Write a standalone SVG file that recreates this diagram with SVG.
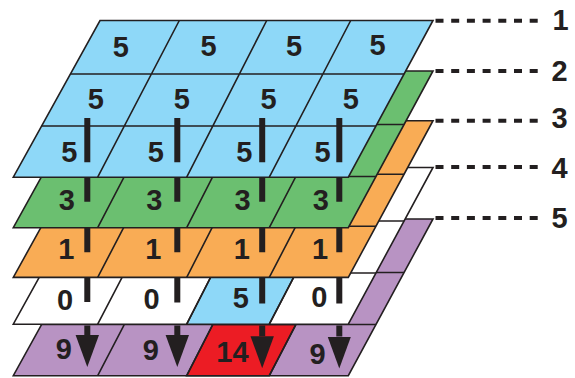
<svg xmlns="http://www.w3.org/2000/svg" width="575" height="378" viewBox="0 0 575 378">
<style>
.plate{stroke:#231f20;stroke-width:1.6;stroke-linejoin:miter}
.grid{fill:none;stroke:#231f20;stroke-width:1.6}
.blue{fill:#8ed8f8}.green{fill:#6bbf70}.orange{fill:#f9ac55}.white{fill:#ffffff}.purple{fill:#b893c3}.red{fill:#ec1c24}
text{font-family:"Liberation Sans",Arial,sans-serif;font-weight:bold;font-size:29px;fill:#231f20;text-anchor:middle}
.bar{stroke:#231f20;stroke-width:6;fill:none}
.lead{stroke:#231f20;stroke-width:4;stroke-dasharray:8 7.7;fill:none}
</style>
<defs>
<path id="outline" d="M100,0 L433,0 L348.3,156.7 L13.3,156.7 Z"/>
<path id="lines" d="M179.3,0 L97.7,156.7 M266.7,0 L186.7,156.7 M350.7,0 L269.3,156.7 M70.4,53.5 L404.1,53.5 M41.6,105.5 L376,105.5"/>
<path id="cell3" d="M212.8,105.5 L295.9,105.5 L269.3,156.7 L186.7,156.7 Z"/>
<marker id="head" markerUnits="userSpaceOnUse" viewBox="0 0 32 24" markerWidth="32" markerHeight="24" refX="0" refY="12" orient="auto">
<path d="M0,0.3 L32,12 L0,23.7 Z" fill="#231f20"/>
</marker>
</defs>

<g id="layer5" transform="translate(0,219)">
<use href="#outline" class="plate purple"/>
<use href="#cell3" class="plate red"/>
<use href="#lines" class="grid"/>
<text x="63.8" y="140">9</text>
<text x="150.8" y="141">9</text>
<text x="232.5" y="143.3">14</text>
<text x="317.5" y="145.3">9</text>
</g>

<g id="layer4" transform="translate(0,167.5)">
<use href="#outline" class="plate white"/>
<use href="#cell3" class="plate blue"/>
<use href="#lines" class="grid"/>
<text x="65" y="142.5">0</text>
<text x="151.5" y="141.8">0</text>
<text x="240.8" y="140">5</text>
<text x="319.2" y="139.3">0</text>
</g>

<g id="layer3" transform="translate(0,120.7)">
<use href="#outline" class="plate orange"/>
<use href="#lines" class="grid"/>
<text x="66.3" y="138.3">1</text>
<text x="153.4" y="138.3">1</text>
<text x="241.7" y="138.3">1</text>
<text x="320" y="138.3">1</text>
</g>

<g id="layer2" transform="translate(0,71)">
<use href="#outline" class="plate green"/>
<use href="#lines" class="grid"/>
<text x="66.7" y="139">3</text>
<text x="154.2" y="139">3</text>
<text x="242.5" y="139">3</text>
<text x="320.8" y="139">3</text>
</g>

<g id="layer1" transform="translate(0,20.5)">
<use href="#outline" class="plate blue"/>
<use href="#lines" class="grid"/>
<text x="120.8" y="36">5</text>
<text x="208.5" y="35.5">5</text>
<text x="294" y="35">5</text>
<text x="377.5" y="34.5">5</text>
<text x="95.8" y="88.8">5</text>
<text x="181.8" y="88.8">5</text>
<text x="268.5" y="88.5">5</text>
<text x="350.8" y="88">5</text>
<text x="69.2" y="141.2">5</text>
<text x="155.8" y="141.2">5</text>
<text x="244.2" y="141.2">5</text>
<text x="322.5" y="141.2">5</text>
</g>

<g id="connectors">
<path class="bar" d="M87.3,118 V162.3 M87.3,177.2 V201.7 M87.3,228 V252.3 M87.3,277.5 V302"/>
<path class="bar" d="M177.3,118 V162.3 M177.3,177.2 V201.7 M177.3,228 V252.3 M177.3,277.5 V302.5"/>
<path class="bar" d="M262.2,118 V162.3 M262.2,177.2 V201.7 M262.2,228 V252.3 M262.2,277.5 V303.5"/>
<path class="bar" d="M339.3,118 V162.3 M339.3,177.2 V201.7 M339.3,228 V252.3 M339.3,277.5 V303.5"/>
<line class="bar" x1="87.3" y1="325.5" x2="87.3" y2="335" marker-end="url(#head)"/>
<line class="bar" x1="177.3" y1="325.5" x2="177.3" y2="335" marker-end="url(#head)"/>
<line class="bar" x1="262.2" y1="325.5" x2="262.2" y2="336.2" marker-end="url(#head)"/>
<line class="bar" x1="339.3" y1="325.5" x2="339.3" y2="336.5" marker-end="url(#head)"/>
</g>

<g id="labels">
<path class="lead" d="M435.5,20.7 H538.5 M435.5,71 H538.5 M435.5,120.7 H538.5 M435.5,167 H538.5 M435.5,218 H538.5"/>
<text x="560.5" y="30">1</text>
<text x="559.5" y="80.5">2</text>
<text x="559.5" y="128.3">3</text>
<text x="559.5" y="178.3">4</text>
<text x="559.5" y="228.3">5</text>
</g>
</svg>
